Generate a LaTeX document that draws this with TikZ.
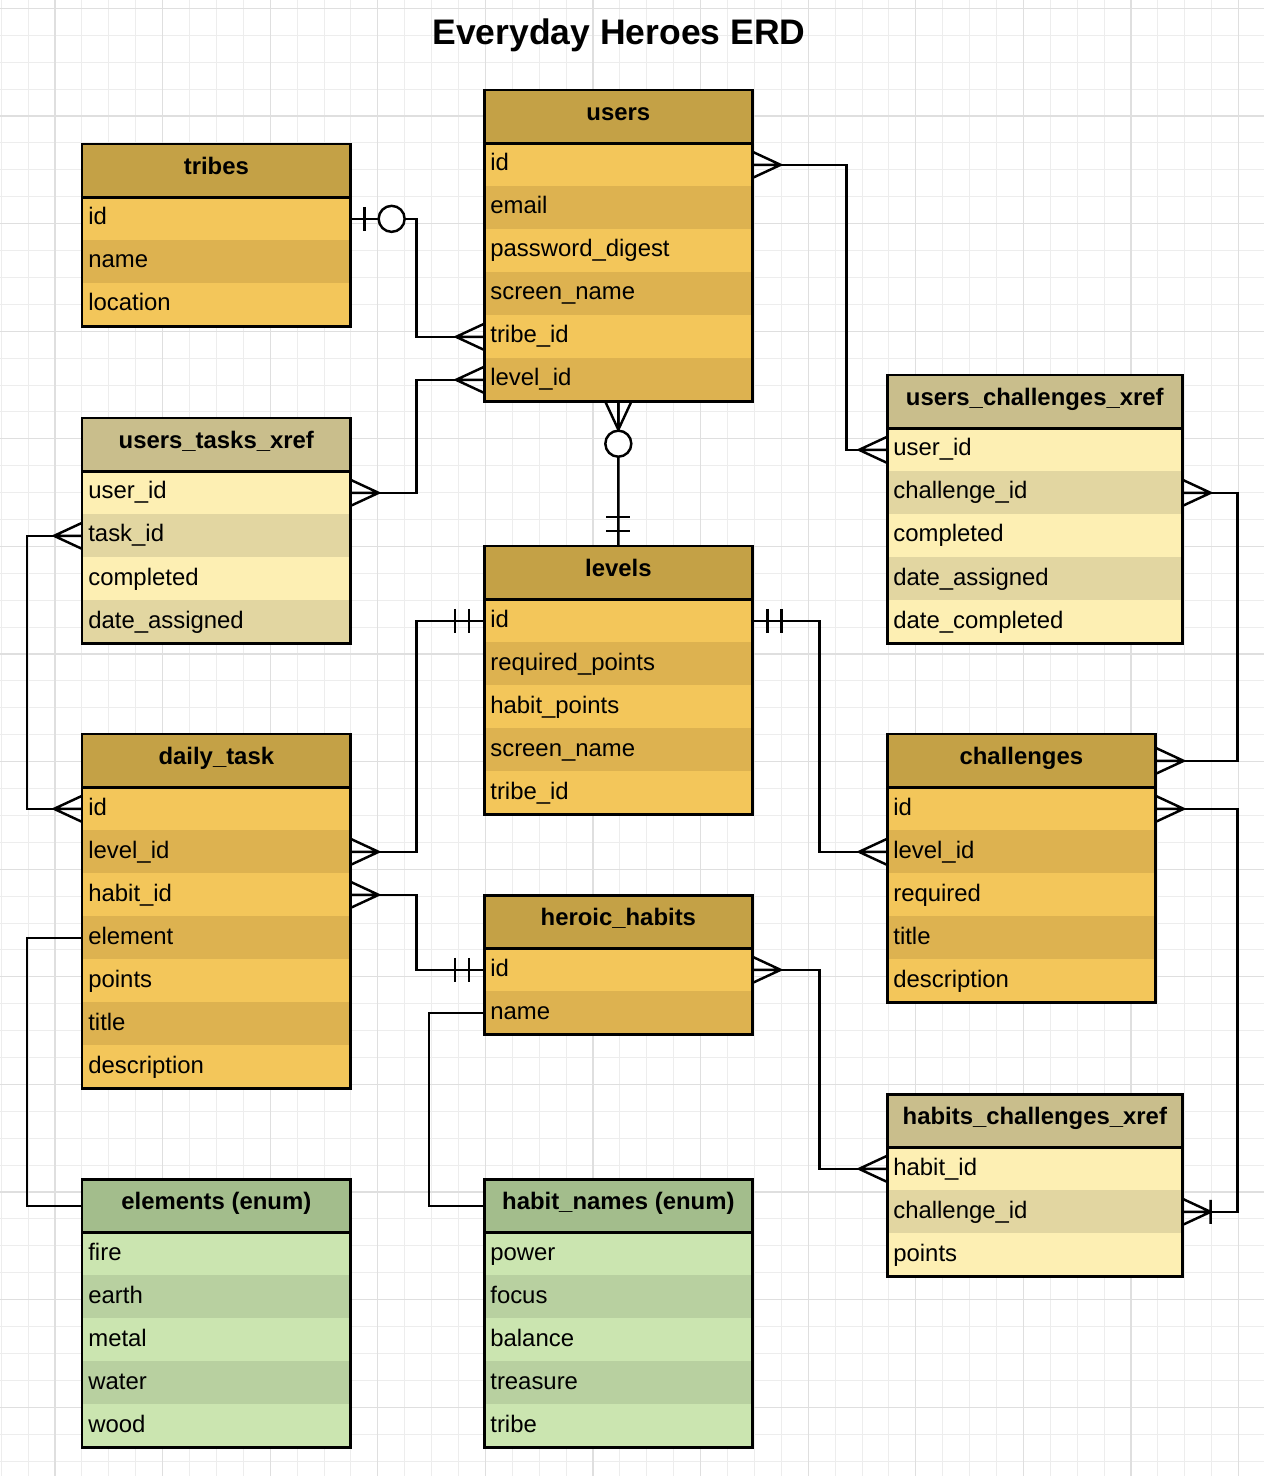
\documentclass[tikz,border=0pt]{standalone}
\usepackage{fontspec}
\setmainfont{Liberation Sans}
\usetikzlibrary{arrows.meta}
\definecolor{gold}{RGB}{196,161,70}
\definecolor{goldA}{RGB}{243,198,90}
\definecolor{goldB}{RGB}{221,178,80}
\definecolor{xref}{RGB}{201,190,140}
\definecolor{xrefA}{RGB}{253,239,179}
\definecolor{xrefB}{RGB}{226,214,161}
\definecolor{enum}{RGB}{163,189,140}
\definecolor{enumA}{RGB}{203,229,176}
\definecolor{enumB}{RGB}{184,208,160}
\definecolor{gridc}{RGB}{237,237,237}
\definecolor{gridm}{RGB}{223,223,223}
\tikzset{
  head/.style={minimum height=1.06cm, inner sep=0pt, anchor=north west,
              text height=10pt, text depth=6pt, font=\fontsize{13.6}{16}\selectfont\bfseries},
  row/.style={minimum height=0.86cm, inner xsep=0.12cm, inner ysep=0pt, anchor=north west,
              align=left, text height=10pt, text depth=3pt, font=\fontsize{13.6}{16}\selectfont},
  border/.style={line width=1.7pt},
  link/.style={line width=1.4pt},
  gridline/.style={gridc, line width=0.5pt},
  gridmajor/.style={gridm, line width=0.6pt},
  many/.pic={\draw[link] (0,-13) -- (28,0) -- (0,13) (0,0) -- (28,0);},
  one/.pic={\draw[link] (15,-12) -- (15,12) (29,-12) -- (29,12);},
  zeroone/.pic={\draw[link] (14,-12) -- (14,12); \draw[link,fill=white] (41,0) circle (0.26cm);},
  zeromany/.pic={\draw[link] (0,-13) -- (28,0) -- (0,13) (0,0) -- (28,0); \draw[link,fill=white] (42,0) circle (0.26cm);},
  onemany/.pic={\draw[link] (0,-13) -- (28,0) -- (0,13) (0,0) -- (28,0) (28,-12) -- (28,12);},
}
% name, left, top, width (cm), title, colour, fields
\newcommand{\erdtable}[7]{%
  \node[head, fill=#6, minimum width=#4cm] (#1) at (#2,#3) {#5};
  \foreach \fld [count=\i] in {#7} {
    \ifodd\i\relax\def\rowfill{#6A}\else\def\rowfill{#6B}\fi
    \node[row, fill=\rowfill, text width=#4cm-0.24cm] (#1-\i) at (#2,{#3+53+43*(\i-1)}) {\fld};
    \xdef\erdlast{\i}
  }
  \draw[border] (#1.north west) rectangle (#1-\erdlast.south east);
  \draw[border] (#1.south west) -- (#1.south east);
}

\begin{document}
\begin{tikzpicture}[x=0.02cm, y=-0.02cm]
  \useasboundingbox (0,0) rectangle (1264,1476);
  \fill[white] (0,0) rectangle (1264,1476);
  \foreach \k in {0,...,47} \draw[gridline] ({1.2+26.9*\k},0) -- ++(0,1476);
  \foreach \k in {0,...,54} \draw[gridline] (0,{8.4+26.9*\k}) -- ++(1264,0);
  \foreach \k in {0,...,11} \draw[gridmajor] ({55+107.6*\k},0) -- ++(0,1476);
  \foreach \k in {0,...,13} \draw[gridmajor] (0,{8.4+107.6*\k}) -- ++(1264,0);

  \node[font=\fontsize{20.2}{24}\selectfont\bfseries] (title) at (619,35) {Everyday Heroes ERD};

  \erdtable{users}{484}{90}{5.36}{users}{gold}{id,email,password\_digest,screen\_name,tribe\_id,level\_id}
  \erdtable{tribes}{82}{144}{5.36}{tribes}{gold}{id,name,location}
  \erdtable{ut}{82}{418}{5.36}{users\_tasks\_xref}{xref}{user\_id,task\_id,completed,date\_assigned}
  \erdtable{uc}{887}{375}{5.9}{users\_challenges\_xref}{xref}{user\_id,challenge\_id,completed,date\_assigned,date\_completed}
  \erdtable{levels}{484}{546}{5.36}{levels}{gold}{id,required\_points,habit\_points,screen\_name,tribe\_id}
  \erdtable{daily}{82}{734}{5.36}{daily\_task}{gold}{id,level\_id,habit\_id,element,points,title,description}
  \erdtable{ch}{887}{734}{5.36}{challenges}{gold}{id,level\_id,required,title,description}
  \erdtable{hh}{484}{895}{5.36}{heroic\_habits}{gold}{id,name}
  \erdtable{hc}{887}{1094}{5.9}{habits\_challenges\_xref}{xref}{habit\_id,challenge\_id,points}
  \erdtable{en}{82}{1179}{5.36}{elements (enum)}{enum}{fire,earth,metal,water,wood}
  \erdtable{hn}{484}{1179}{5.36}{habit\_names (enum)}{enum}{power,focus,balance,treasure,tribe}

  \draw[link] (tribes-1.east) -- ++(66,0) |- (users-5.west);
  \draw[link] (users-6.west) -| ([xshift=1.32cm]ut-1.east) -- (ut-1.east);
  \draw[link] (users-1.east) -- ++(94,0) |- (uc-1.west);
  \draw[link] (users-6.south) -- (levels.north);
  \draw[link] (ut-2.west) -- ++(-55,0) |- (daily-1.west);
  \draw[link] (levels-1.west) -| ([xshift=1.32cm]daily-2.east) -- (daily-2.east);
  \draw[link] (levels-1.east) -- ++(67,0) |- (ch-2.west);
  \draw[link] (daily-3.east) -- ++(66,0) |- (hh-1.west);
  \draw[link] (daily-4.west) -- ++(-55,0) |- (en.west);
  \draw[link] (hh-2.west) -- ++(-55,0) |- (hn.west);
  \draw[link] (hh-1.east) -- ++(67,0) |- (hc-1.west);
  \draw[link] (uc-2.east) -- ++(55,0) |- (ch.east);
  \draw[link] (ch-1.east) -| ([xshift=1.1cm]hc-2.east) -- (hc-2.east);

  \pic at (tribes-1.east) {zeroone};
  \pic[xscale=-1] at (users-5.west) {many};
  \pic[xscale=-1] at (users-6.west) {many};
  \pic at (ut-1.east) {many};
  \pic at (users-1.east) {many};
  \pic[xscale=-1] at (uc-1.west) {many};
  \pic[rotate=-90] at (users-6.south) {zeromany};
  \pic[rotate=90] at (levels.north) {one};
  \pic[xscale=-1] at (ut-2.west) {many};
  \pic[xscale=-1] at (daily-1.west) {many};
  \pic[xscale=-1] at (levels-1.west) {one};
  \pic at (daily-2.east) {many};
  \pic at (levels-1.east) {one};
  \pic[xscale=-1] at (ch-2.west) {many};
  \pic at (daily-3.east) {many};
  \pic[xscale=-1] at (hh-1.west) {one};
  \pic at (hh-1.east) {many};
  \pic[xscale=-1] at (hc-1.west) {many};
  \pic at (uc-2.east) {many};
  \pic at (ch.east) {many};
  \pic at (ch-1.east) {many};
  \pic at (hc-2.east) {onemany};
\end{tikzpicture}
\end{document}
